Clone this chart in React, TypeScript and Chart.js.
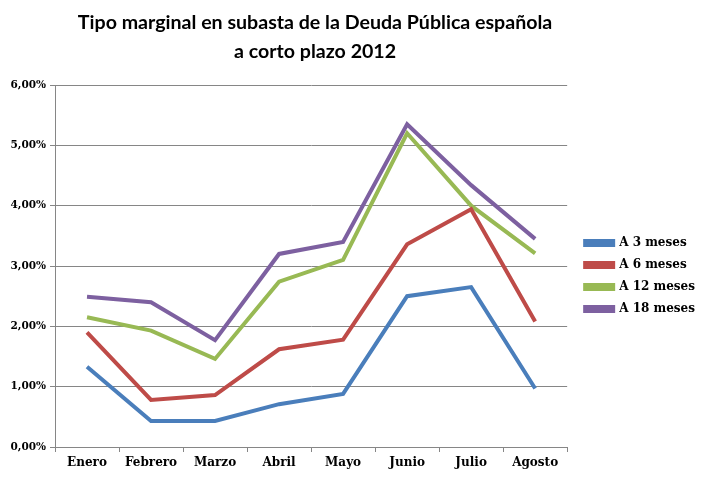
import React, { useEffect, useRef } from "react";
import { Chart, registerables } from "chart.js";

Chart.register(...registerables);

const months = ["Enero", "Febrero", "Marzo", "Abril", "Mayo", "Junio", "Julio", "Agosto"];
const a3 = [1.33, 0.43, 0.43, 0.71, 0.88, 2.5, 2.65, 0.97];
const a6 = [1.9, 0.78, 0.86, 1.62, 1.78, 3.36, 3.94, 2.08];
const a12 = [2.15, 1.93, 1.46, 2.74, 3.1, 5.2, 4.0, 3.21];
const a18 = [2.49, 2.4, 1.77, 3.2, 3.4, 5.35, 4.34, 3.45];
const seriesNames = ["A 3 meses", "A 6 meses", "A 12 meses", "A 18 meses"];
const seriesColors = ["#4A7EBB", "#BE4B48", "#98B954", "#7D60A0"];
const titleLines = ["Tipo marginal en subasta de la Deuda Pública española", "a corto plazo 2012"];

const layoutShift = {
  id: "layoutShift",
  afterLayout(chart: any) {
    const l = chart.legend;
    if (l) {
      l.left += 8;
      l.right += 8;
      l.top += 10;
      l.bottom += 10;
    }
    const t = chart.titleBlock;
    if (t) {
      t.left += 4;
      t.right += 4;
    }
  },
};

export default function App() {
  const ref = useRef<HTMLCanvasElement | null>(null);
  useEffect(() => {
    if (!ref.current) return;
    const data = [a3, a6, a12, a18];
    const chart = new Chart(ref.current, {
      type: "line",
      data: {
        labels: months,
        datasets: data.map((d, i) => ({
          label: seriesNames[i],
          data: d,
          borderColor: seriesColors[i],
          backgroundColor: seriesColors[i],
          borderWidth: 4,
          pointRadius: 0,
          tension: 0,
          fill: false,
        })),
      },
      options: {
        animation: false,
        responsive: true,
        maintainAspectRatio: false,
        layout: { padding: { right: 4, left: 0, top: 0, bottom: 0 } },
        plugins: {
          title: {
            display: true,
            text: titleLines,
            fullSize: false,
            color: "#000",
            font: { family: "Lato", size: 19.6, weight: "bold", lineHeight: "29px" },
            padding: { top: 8, bottom: 19 },
          },
          legend: {
            position: "right",
            fullSize: false,
            labels: {
              boxWidth: 28,
              boxHeight: 4,
              padding: 10,
              color: "#000",
              font: { family: "DejaVu Serif", size: 12, weight: "bold" },
            },
          },
          tooltip: { enabled: false },
        },
        scales: {
          x: {
            offset: true,
            grid: {
              offset: true,
              drawOnChartArea: false,
              drawTicks: true,
              tickLength: 5,
              color: "#868686",
            },
            border: { color: "#868686" },
            ticks: {
              color: "#000",
              font: { family: "DejaVu Serif", size: 12, weight: "bold" },
              padding: 4,
              maxRotation: 0,
            },
            afterFit: (s: any) => {
              s.height = 30;
            },
          },
          y: {
            min: 0,
            max: 6,
            grid: { color: "#868686", tickLength: 5 },
            border: { color: "#868686" },
            ticks: {
              stepSize: 1,
              color: "#000",
              font: { family: "DejaVu Serif", size: 10.5, weight: "bold" },
              padding: 4,
              callback: (v: any) => Number(v).toFixed(2).replace(".", ",") + "%",
            },
            afterFit: (s: any) => {
              s.width = 55;
            },
          },
        },
      },
      plugins: [layoutShift],
    });
    return () => chart.destroy();
  }, []);
  return (
    <div style={{ position: "fixed", left: 0, top: 0, width: 701, height: 477, background: "#fff" }}>
      <canvas ref={ref} />
    </div>
  );
}
